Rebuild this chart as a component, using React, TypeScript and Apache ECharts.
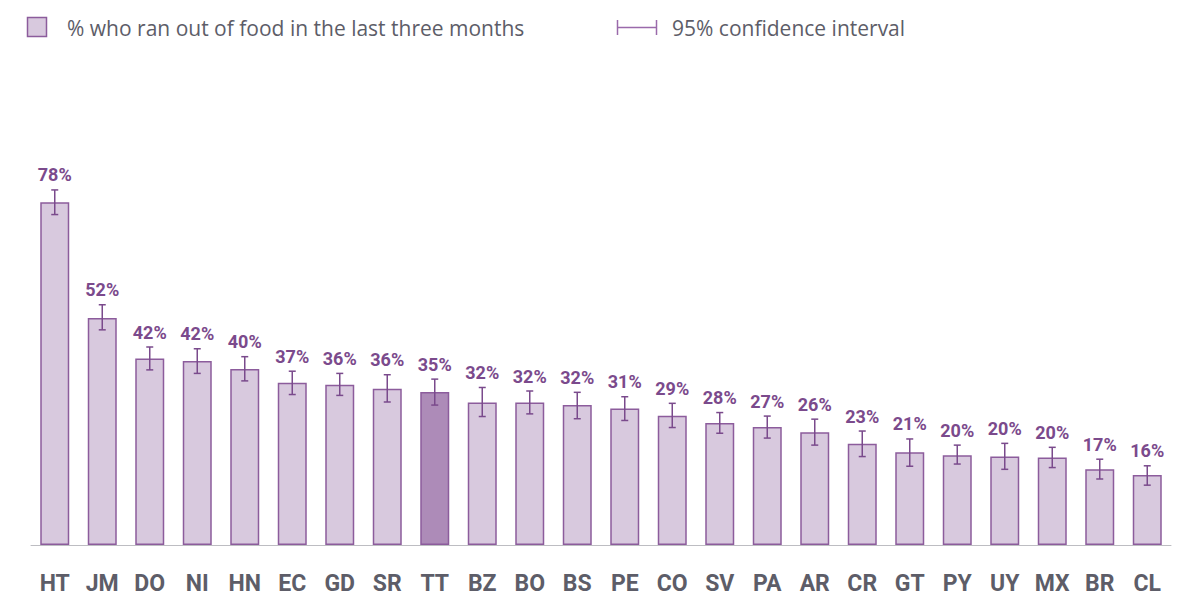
import React, { useEffect, useRef } from "react";
import * as echarts from "echarts";

const categories = ["HT", "JM", "DO", "NI", "HN", "EC", "GD", "SR", "TT", "BZ", "BO", "BS", "PE", "CO", "SV", "PA", "AR", "CR", "GT", "PY", "UY", "MX", "BR", "CL"];
const values = [77.9, 51.6, 42.4, 41.8, 40.0, 36.9, 36.4, 35.5, 34.8, 32.4, 32.4, 31.8, 31.0, 29.4, 27.7, 26.8, 25.6, 23.0, 21.1, 20.4, 20.1, 19.9, 17.2, 15.9];
const ciLow = [75.1, 48.9, 39.8, 39.0, 37.3, 34.2, 34.0, 32.5, 31.8, 29.2, 29.8, 28.7, 28.3, 26.7, 25.4, 24.3, 22.7, 20.1, 17.9, 18.4, 17.2, 17.6, 15.0, 13.6];
const ciHigh = [80.7, 54.6, 45.0, 44.6, 42.8, 39.5, 39.0, 38.7, 37.7, 35.8, 35.0, 34.7, 33.7, 32.2, 30.1, 29.3, 28.6, 25.9, 24.1, 22.7, 23.1, 22.2, 19.5, 18.0];
const highlighted = "TT";
const legendBarLabel = "% who ran out of food in the last three months";
const legendCiLabel = "95% confidence interval";

const BAR_FILL = "#d8c9de";
const BAR_FILL_HL = "#ad8bb8";
const BAR_BORDER = "#8c5c9c";
const ERR_COLOR = "#7a4a8c";
const LABEL_COLOR = "#7b4a8c";
const TEXT_GREY = "#5d5d68";

export default function App() {
  const ref = useRef<HTMLDivElement>(null);
  useEffect(() => {
    document.body.style.margin = "0";
    if (!ref.current) return;
    const chart = echarts.init(ref.current, null, { renderer: "svg" });
    const errData = categories.map((c, i) => [i, ciLow[i], ciHigh[i], values[i]]);
    chart.setOption({
      animation: false,
      grid: { left: 31, right: 25, top: 105, bottom: 52 },
      xAxis: {
        type: "category",
        data: categories,
        axisTick: { show: false },
        axisLine: { lineStyle: { color: "#bdbdc2", width: 1 } },
        axisLabel: {
          color: TEXT_GREY,
          fontFamily: "Roboto",
          fontWeight: "bold",
          fontSize: 23,
          margin: 27,
        },
      },
      yAxis: { type: "value", min: 0, max: 100, show: false, splitLine: { show: false } },
      series: [
        {
          type: "bar",
          barWidth: 29,
          data: values.map((v, i) => ({
            value: v,
            itemStyle: {
              color: categories[i] === highlighted ? BAR_FILL_HL : BAR_FILL,
              borderColor: BAR_BORDER,
              borderWidth: 1.5,
            },
          })),
        },
        {
          type: "custom",
          data: errData,
          z: 10,
          renderItem: (params: any, api: any) => {
            const idx = api.value(0);
            const lo = api.coord([idx, api.value(1)]);
            const hi = api.coord([idx, api.value(2)]);
            const v = api.value(3);
            const x = lo[0];
            const cap = 3.5;
            const style = { stroke: ERR_COLOR, lineWidth: 1.5 };
            return {
              type: "group",
              children: [
                { type: "line", shape: { x1: x, y1: lo[1], x2: x, y2: hi[1] }, style },
                { type: "line", shape: { x1: x - cap, y1: lo[1], x2: x + cap, y2: lo[1] }, style },
                { type: "line", shape: { x1: x - cap, y1: hi[1], x2: x + cap, y2: hi[1] }, style },
                {
                  type: "text",
                  x: x,
                  y: hi[1] - 6,
                  style: {
                    text: Math.round(v) + "%",
                    fill: LABEL_COLOR,
                    font: "bold 18px Roboto",
                    align: "center",
                    verticalAlign: "bottom",
                  },
                },
              ],
            };
          },
        },
      ],
      graphic: [
        {
          type: "rect",
          shape: { x: 27.5, y: 17.5, width: 19, height: 19 },
          style: { fill: BAR_FILL, stroke: BAR_BORDER, lineWidth: 1.5 },
        },
        {
          type: "text",
          x: 67,
          y: 28,
          style: {
            text: legendBarLabel,
            fill: TEXT_GREY,
            font: "21px 'Open Sans'",
            verticalAlign: "middle",
          },
        },
        {
          type: "group",
          children: [
            { type: "line", shape: { x1: 617.5, y1: 20, x2: 617.5, y2: 35 }, style: { stroke: "#9a6aab", lineWidth: 1.5 } },
            { type: "line", shape: { x1: 617.5, y1: 27.5, x2: 656.5, y2: 27.5 }, style: { stroke: "#9a6aab", lineWidth: 1.5 } },
            { type: "line", shape: { x1: 656.5, y1: 20, x2: 656.5, y2: 35 }, style: { stroke: "#9a6aab", lineWidth: 1.5 } },
          ],
        },
        {
          type: "text",
          x: 672,
          y: 28,
          style: {
            text: legendCiLabel,
            fill: TEXT_GREY,
            font: "21px 'Open Sans'",
            verticalAlign: "middle",
          },
        },
      ],
    });
    return () => chart.dispose();
  }, []);
  return <div ref={ref} style={{ width: 1196, height: 597 }} />;
}
